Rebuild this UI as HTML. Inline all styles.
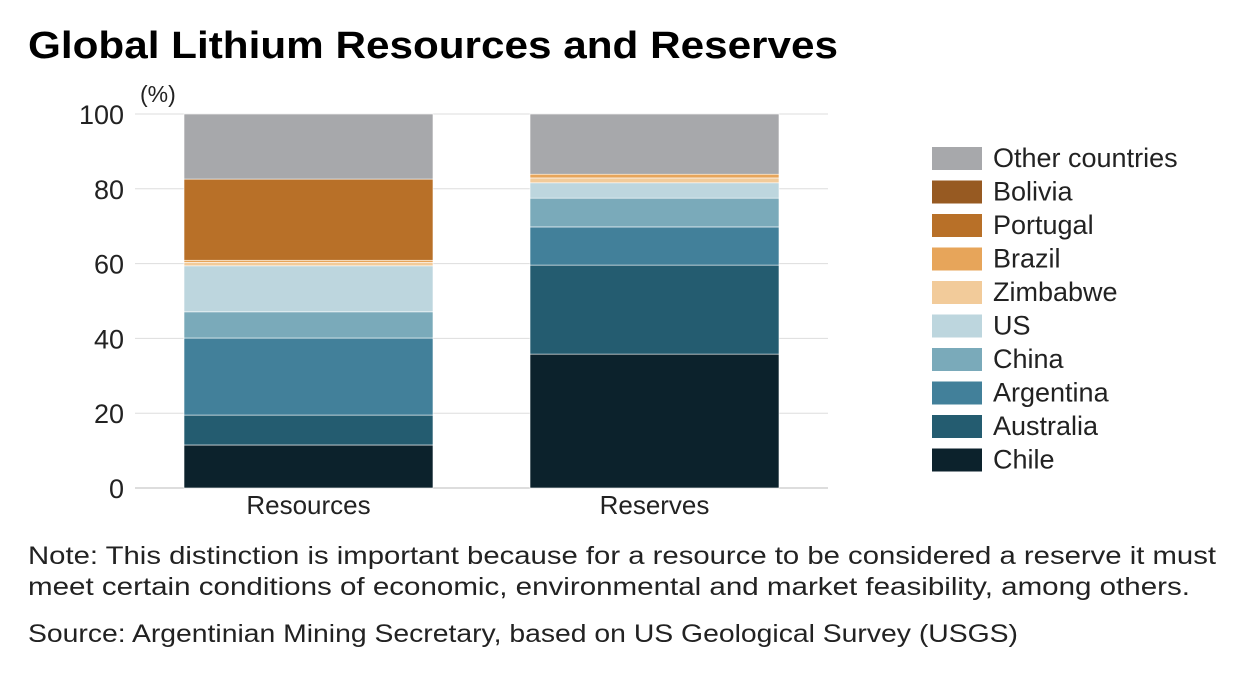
<!DOCTYPE html>
<html><head><meta charset="utf-8"><style>
body{margin:0;background:#fff;font-family:"Liberation Sans",sans-serif;}
svg text{font-family:"Liberation Sans",sans-serif;}
</style></head><body>
<svg id="c" width="1254" height="672">
<text x="28" y="58" font-size="38" font-weight="bold" fill="#000" textLength="810" lengthAdjust="spacingAndGlyphs">Global Lithium Resources and Reserves</text>
<text x="140" y="102" font-size="23" fill="#222">(%)</text>
<g id="grid"></g><g id="bars"></g><g id="legend"></g>
<text x="28" y="564" font-size="25" fill="#222" textLength="1188" lengthAdjust="spacingAndGlyphs">Note: This distinction is important because for a resource to be considered a reserve it must</text>
<text x="28" y="595" font-size="25" fill="#222" textLength="1162" lengthAdjust="spacingAndGlyphs">meet certain conditions of economic, environmental and market feasibility, among others.</text>
<text x="28" y="642" font-size="25" fill="#222" textLength="990" lengthAdjust="spacingAndGlyphs">Source: Argentinian Mining Secretary, based on US Geological Survey (USGS)</text>
</svg>
<script>
const categories=["Resources","Reserves"];
const seriesNames=["Chile","Australia","Argentina","China","US","Zimbabwe","Brazil","Portugal","Bolivia","Other countries"];
const resourcesValues=[11.5,8.0,20.6,7.0,12.3,0.9,0.6,21.7,0,17.4];
const reservesValues=[35.8,23.8,10.2,7.7,4.1,1.3,1.0,0,0,16.1];
const yTicks=[0,20,40,60,80,100];
const colors=["#0c222c","#245c70","#42809a","#7aaaba","#bdd6de","#f2cb9a","#e7a55a","#b87028","#975a22","#a7a8ab"];
const NS="http://www.w3.org/2000/svg";
const y=v=>488-v*3.74;
const xBar=i=>184+i*346, bw=249;
function mk(t,a,p){const e=document.createElementNS(NS,t);for(const k in a)e.setAttribute(k,a[k]);p.appendChild(e);return e;}
const grid=document.getElementById('grid');
yTicks.forEach(t=>{
 const l=mk('line',{x1:135,x2:828,y1:y(t),y2:y(t),stroke:t===0?'#bbb':'#ddd','stroke-width':1},grid);
 
 
 const tx=mk('text',{x:124,y:y(t)+10,'font-size':27,'text-anchor':'end',fill:'#222'},grid);tx.textContent=t;
 
 
});
const bars=document.getElementById('bars');
[resourcesValues,reservesValues].forEach((vals,i)=>{
 let c=0;
 vals.forEach((v,j)=>{
  if(v>0){const r=mk('rect',{x:xBar(i),y:y(c+v),width:bw,height:v*3.74,fill:colors[j],stroke:'#fff','stroke-width':0.6},bars);
  
  }
  c+=v;
 });
 const t=mk('text',{x:xBar(i)+bw/2,y:514,'font-size':26,'text-anchor':'middle',fill:'#222'},bars);t.textContent=categories[i];
 
 
});
const lg=document.getElementById('legend');
for(let k=0;k<seriesNames.length;k++){
 const j=seriesNames.length-1-k, yy=147+k*33.5;
 const g=mk('g',{},lg);
 
 
 mk('rect',{x:932,y:yy,width:50,height:23,fill:colors[j]},g);
 const t=mk('text',{x:993,y:yy+20,'font-size':27,fill:'#222'},g);t.textContent=seriesNames[j];
}
</script>
</body></html>
